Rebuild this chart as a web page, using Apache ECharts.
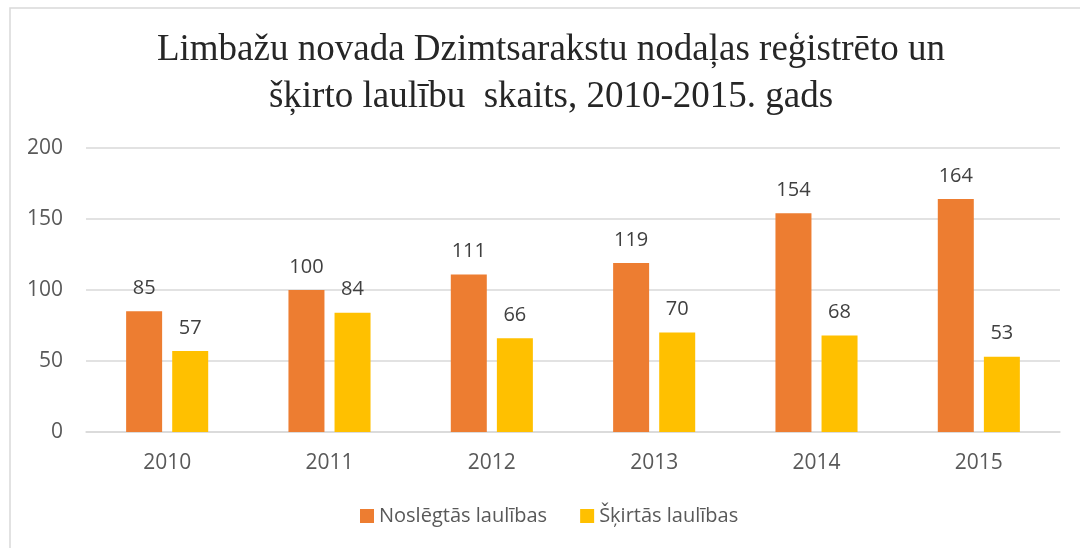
<!DOCTYPE html>
<html>
<head>
<meta charset="utf-8">
<script src="https://cdn.jsdelivr.net/npm/echarts@6/dist/echarts.min.js"></script>
<style>
html, body { margin: 0; padding: 0; background: #fff; }
#chart { width: 1080px; height: 548px; }
</style>
</head>
<body>
<div id="chart"></div>
<script>
// dati no attēla
var years = ['2010', '2011', '2012', '2013', '2014', '2015'];
var noslegtas = [85, 100, 111, 119, 154, 164];
var skirtas = [57, 84, 66, 70, 68, 53];
var seriesNames = ['Noslēgtās laulības', 'Šķirtās laulības'];

var chart = echarts.init(document.getElementById('chart'));

var labelStyle = {
    show: true,
    position: 'top',
    distance: 13,
    color: '#404040',
    fontSize: 20,
    fontFamily: 'Open Sans'
};

chart.setOption({
    animation: false,
    graphic: [{
        type: 'rect',
        shape: { x: 10, y: 8, width: 1090, height: 560 },
        style: { fill: 'none', stroke: '#d9d9d9', lineWidth: 1.5 },
        silent: true
    }],
    title: {
        text: 'Limbažu novada Dzimtsarakstu nodaļas reģistrēto un\nšķirto laulību  skaits, 2010-2015. gads',
        left: 546,
        textAlign: 'center',
        top: 22,
        textStyle: {
            fontFamily: 'Liberation Serif',
            fontSize: 37,
            fontWeight: 'normal',
            color: '#262626',
            lineHeight: 47
        }
    },
    legend: {
        data: seriesNames,
        bottom: 17,
        left: 355,
        itemWidth: 14,
        itemHeight: 14,
        itemGap: 33,
        icon: 'rect',
        textStyle: { fontSize: 20, color: '#595959', fontFamily: 'Open Sans' }
    },
    grid: {
        left: 86,
        right: 20,
        top: 148,
        bottom: 116
    },
    xAxis: {
        type: 'category',
        data: years,
        axisTick: { show: false },
        axisLine: { lineStyle: { color: '#d9d9d9', width: 1.5 } },
        axisLabel: { fontSize: 21, color: '#595959', fontFamily: 'Open Sans', margin: 21 }
    },
    yAxis: {
        type: 'value',
        min: 0,
        max: 200,
        interval: 50,
        axisLine: { show: false },
        axisTick: { show: false },
        axisLabel: { fontSize: 21, color: '#595959', fontFamily: 'Open Sans', margin: 23 },
        splitLine: { lineStyle: { color: '#d9d9d9', width: 1.5 } }
    },
    series: [{
        name: seriesNames[0],
        type: 'bar',
        data: noslegtas,
        barWidth: 36,
        barGap: '28%',
        itemStyle: { color: '#ED7D31' },
        label: labelStyle
    }, {
        name: seriesNames[1],
        type: 'bar',
        data: skirtas,
        barWidth: 36,
        barGap: '28%',
        itemStyle: { color: '#FFC000' },
        label: labelStyle
    }]
});
</script>
</body>
</html>
